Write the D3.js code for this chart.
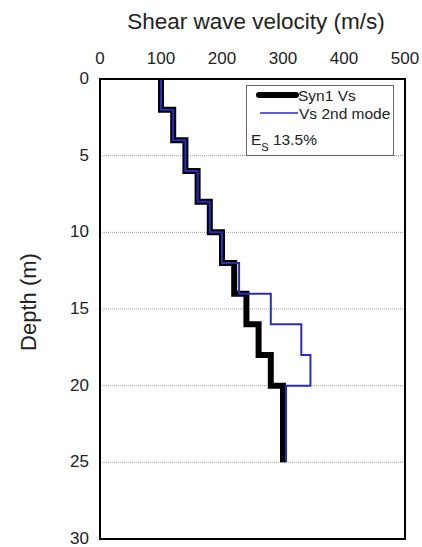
<!DOCTYPE html>
<html>
<head>
<meta charset="utf-8">
<script src="https://cdn.jsdelivr.net/npm/d3@7"></script>
<style>
  body { margin: 0; background: #fff; }
  text { font-family: "Liberation Sans", Arial, sans-serif; fill: #222; }
</style>
</head>
<body>
<script>
// layer boundaries (m) and velocities (m/s)
const layerTops = [0, 2, 4, 6, 8, 10, 12, 14, 16, 18, 20]
const layerBottoms = [2, 4, 6, 8, 10, 12, 14, 16, 18, 20, 25]
const syn1Vs = [100, 120, 140, 160, 180, 200, 220, 240, 260, 280, 300]
const mode2Vs = [100, 120, 140, 160, 180, 200, 228, 280, 330, 345, 305]
const xTicks = [0, 100, 200, 300, 400, 500]
const yTicks = [0, 5, 10, 15, 20, 25, 30]
const gridDepths = [5, 10, 15, 20, 25]

const m = { width: 422, height: 547, left: 100, right: 405, top: 79, bottom: 539 }

const svg = d3.select("body").append('svg')
    .attr('width', m.width)
    .attr('height', m.height)

const x = d3.scaleLinear().domain([0, 500]).range([m.left, m.right])
const y = d3.scaleLinear().domain([0, 30]).range([m.top, m.bottom])

// dotted grid lines
svg.selectAll('.grid')
    .data(gridDepths)
    .enter()
    .append('line')
        .attr('x1', m.left)
        .attr('x2', m.right)
        .attr('y1', d => y(d))
        .attr('y2', d => y(d))
        .attr('stroke', '#999')
        .attr('stroke-width', 1)
        .attr('stroke-dasharray', '1,1')

// turn layers into a stepped profile
function profile(vals) {
    let pts = []
    vals.forEach((v, i) => {
        pts.push([v, layerTops[i]])
        pts.push([v, layerBottoms[i]])
    })
    return pts
}

const line = d3.line()
    .x(d => x(d[0]))
    .y(d => y(d[1]))

svg.append('path')
    .attr('d', line(profile(syn1Vs)))
    .attr('fill', 'none')
    .attr('stroke', '#000')
    .attr('stroke-width', 6)
    .attr('stroke-linejoin', 'miter')

svg.append('path')
    .attr('d', line(profile(mode2Vs)))
    .attr('fill', 'none')
    .attr('stroke', '#2b2bc0')
    .attr('stroke-width', 2)

// frame
svg.append('rect')
    .attr('x', m.left)
    .attr('y', m.top)
    .attr('width', m.right - m.left)
    .attr('height', m.bottom - m.top)
    .attr('fill', 'none')
    .attr('stroke', '#000')
    .attr('stroke-width', 2)

// top axis labels
svg.selectAll('.xt')
    .data(xTicks)
    .enter()
    .append('text')
        .attr('x', d => x(d))
        .attr('y', 64)
        .attr('text-anchor', 'middle')
        .attr('font-size', 17)
        .text(d => d)

svg.selectAll('.yt')
    .data(yTicks)
    .enter()
    .append('text')
        .attr('x', 89)
        .attr('y', d => y(d) + 5)
        .attr('text-anchor', 'end')
        .attr('font-size', 17)
        .text(d => d)

svg.append('text')
    .attr('x', 256)
    .attr('y', 29)
    .attr('text-anchor', 'middle')
    .attr('font-size', 22.5)
    .text('Shear wave velocity (m/s)')

svg.append('text')
    .attr('transform', 'translate(36,302) rotate(-90)')
    .attr('text-anchor', 'middle')
    .attr('font-size', 22)
    .text('Depth (m)')

// legend
const lg = svg.append('g')
lg.append('rect')
    .attr('x', 246.5)
    .attr('y', 85.5)
    .attr('width', 147)
    .attr('height', 70)
    .attr('fill', '#fff')
    .attr('stroke', '#666')
    .attr('stroke-width', 1)

lg.append('line')
    .attr('x1', 259).attr('x2', 296)
    .attr('y1', 95).attr('y2', 95)
    .attr('stroke', '#000').attr('stroke-width', 6)
    .attr('stroke-linecap', 'round')
lg.append('text')
    .attr('x', 298).attr('y', 101)
    .attr('font-size', 15.5)
    .text('Syn1 Vs')

lg.append('line')
    .attr('x1', 260).attr('x2', 298)
    .attr('y1', 113).attr('y2', 113)
    .attr('stroke', '#2b2bc0').attr('stroke-width', 1.5)
lg.append('text')
    .attr('x', 299).attr('y', 119)
    .attr('font-size', 15.5)
    .text('Vs 2nd mode')

const es = lg.append('text')
    .attr('x', 251).attr('y', 145)
    .attr('font-size', 15.5)
es.append('tspan').text('E')
es.append('tspan').attr('font-size', 11).attr('dy', 6).text('S')
es.append('tspan').attr('dy', -6).text(' 13.5%')
</script>
</body>
</html>
